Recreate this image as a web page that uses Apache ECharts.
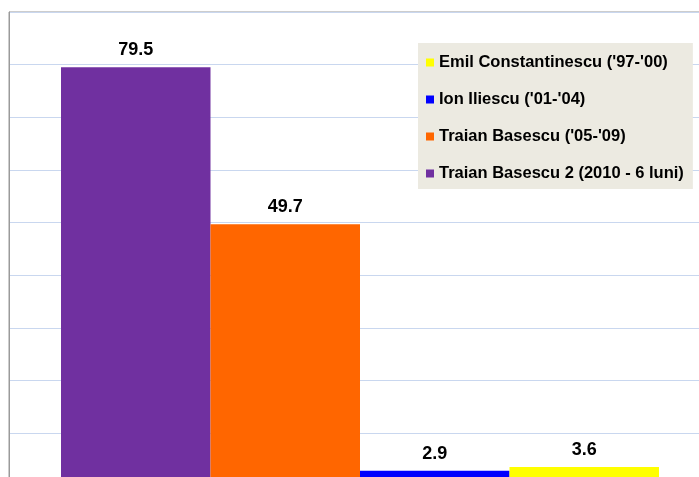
<!DOCTYPE html>
<html>
<head>
<meta charset="utf-8">
<script src="https://cdn.jsdelivr.net/npm/echarts@6/dist/echarts.min.js"></script>
<style>html,body{margin:0;padding:0;background:#fff;overflow:hidden}#c{width:730px;height:500px}</style>
</head>
<body>
<div id="c"></div>
<script>
var seriesNames = ["Traian Basescu 2 (2010 - 6 luni)", "Traian Basescu ('05-'09)", "Ion Iliescu ('01-'04)", "Emil Constantinescu ('97-'00)"];
var seriesValues = [79.5, 49.7, 2.9, 3.6];
var legendOrder = ["Emil Constantinescu ('97-'00)", "Ion Iliescu ('01-'04)", "Traian Basescu ('05-'09)", "Traian Basescu 2 (2010 - 6 luni)"];
var categories = [""];
var colors = ["#7030A0", "#FF6600", "#0000FF", "#FFFF00"];

var chart = echarts.init(document.getElementById('c'));
var series = seriesNames.map(function (n, i) {
  return {
    name: n,
    type: 'bar',
    data: [seriesValues[i]],
    barWidth: 149.5,
    barGap: '0%',
    itemStyle: { color: colors[i] },
    label: {
      show: true, position: 'top', distance: 8,
      fontFamily: 'Liberation Sans, Arial, sans-serif', fontWeight: 'bold', fontSize: 18, color: '#000'
    }
  };
});
chart.setOption({
  animation: false,
  grid: { left: 9, top: 12, width: 702, height: 474, show: true, borderColor: '#9a9a9a', borderWidth: 1, backgroundColor: 'transparent' },
  legend: {
    orient: 'vertical', left: 418, top: 43,
    data: legendOrder,
    backgroundColor: '#ECEAE1',
    padding: [11, 9, 7, 8],
    itemGap: 20, itemWidth: 8, itemHeight: 8,
    icon: 'rect',
    textStyle: { fontFamily: 'Liberation Sans, Arial, sans-serif', fontWeight: 'bold', fontSize: 16.5, lineHeight: 17, color: '#000' }
  },
  xAxis: { type: 'category', data: categories, axisLine: { show: false }, axisTick: { show: false }, axisLabel: { show: false } },
  yAxis: {
    type: 'value', min: 0, max: 90, interval: 10,
    axisLine: { show: true, lineStyle: { color: '#9a9a9a' } },
    axisTick: { show: false }, axisLabel: { show: false },
    splitLine: { lineStyle: { color: '#C9D7EF' } }
  },
  series: series
});
</script>
</body>
</html>
